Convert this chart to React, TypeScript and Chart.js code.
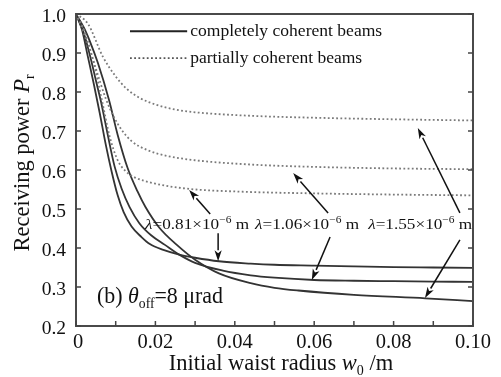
import React, { useEffect, useRef } from "react";
import { Chart, registerables } from "chart.js";

Chart.register(...registerables);

// ---- data ----
const solid081X = [0, 0.0015, 0.003, 0.0045, 0.006, 0.0075, 0.009, 0.0105, 0.012, 0.014, 0.0165, 0.0186, 0.022, 0.026, 0.03, 0.036, 0.044, 0.05, 0.06, 0.07, 0.08, 0.09, 0.1];
const solid081Y = [1.0, 0.96, 0.89, 0.82, 0.745, 0.665, 0.595, 0.535, 0.492, 0.455, 0.428, 0.41, 0.395, 0.383, 0.375, 0.366, 0.36, 0.357, 0.355, 0.353, 0.351, 0.35, 0.349];

const solid106X = [0, 0.002, 0.0038, 0.005, 0.0063, 0.008, 0.0097, 0.0115, 0.0135, 0.016, 0.019, 0.0224, 0.026, 0.03, 0.037, 0.044, 0.05, 0.06, 0.07, 0.08, 0.09, 0.1];
const solid106Y = [1.0, 0.95, 0.882, 0.83, 0.775, 0.69, 0.61, 0.552, 0.505, 0.463, 0.432, 0.408, 0.383, 0.362, 0.342, 0.33, 0.324, 0.318, 0.316, 0.315, 0.314, 0.313];

const solid155X = [0, 0.002, 0.0035, 0.0055, 0.0083, 0.0105, 0.013, 0.0155, 0.0175, 0.021, 0.0254, 0.03, 0.036, 0.044, 0.05, 0.056, 0.07, 0.088, 0.1];
const solid155Y = [1.0, 0.965, 0.93, 0.875, 0.78, 0.69, 0.605, 0.545, 0.505, 0.452, 0.408, 0.37, 0.335, 0.31, 0.298, 0.291, 0.28, 0.271, 0.264];

const dotted081X = [0, 0.002, 0.0043, 0.0065, 0.0085, 0.0105, 0.0125, 0.0144, 0.02, 0.028, 0.04, 0.06, 0.08, 0.1];
const dotted081Y = [1.0, 0.95, 0.88, 0.78, 0.685, 0.625, 0.597, 0.583, 0.565, 0.552, 0.545, 0.54, 0.537, 0.535];

const dotted106X = [0, 0.002, 0.005, 0.0075, 0.0095, 0.0115, 0.014, 0.018, 0.023, 0.03, 0.044, 0.06, 0.08, 0.1];
const dotted106Y = [1.0, 0.96, 0.86, 0.783, 0.737, 0.703, 0.674, 0.651, 0.636, 0.625, 0.614, 0.608, 0.604, 0.602];

const dotted155X = [0, 0.003, 0.0068, 0.01, 0.0128, 0.016, 0.02, 0.025, 0.03, 0.044, 0.06, 0.08, 0.1];
const dotted155Y = [1.0, 0.975, 0.89, 0.84, 0.808, 0.785, 0.768, 0.755, 0.748, 0.739, 0.734, 0.73, 0.727];

const xTickValues = [0, 0.01, 0.02, 0.03, 0.04, 0.05, 0.06, 0.07, 0.08, 0.09, 0.1];
const xTickLabels = ["0", "", "0.02", "", "0.04", "", "0.06", "", "0.08", "", "0.10"];
const yTickValues = [0.2, 0.3, 0.4, 0.5, 0.6, 0.7, 0.8, 0.9, 1.0];
const yTickLabels = ["0.2", "0.3", "0.4", "0.5", "0.6", "0.7", "0.8", "0.9", "1.0"];

const legendLabels = ["completely coherent beams", "partially coherent beams"];
const waveLabels = ["0.81", "1.06", "1.55"];
const waveLabelX = [0.0174, 0.0451, 0.0736];
const waveLabelY = 0.462;
// arrows: [tailX, tailY, headX, headY]
const arrows = [
  [0.0338, 0.487, 0.0285, 0.549],
  [0.0358, 0.438, 0.0358, 0.366],
  [0.0635, 0.49, 0.0547, 0.592],
  [0.064, 0.428, 0.0594, 0.318],
  [0.0967, 0.49, 0.0861, 0.708],
  [0.0967, 0.421, 0.0879, 0.272],
];

const FAMILY = '"Liberation Serif", "Times New Roman", serif';
const TEXT = "#111";

type Run = { t: string; italic?: boolean; size: number; dy?: number };

function runsWidth(ctx: CanvasRenderingContext2D, runs: Run[]) {
  let w = 0;
  for (const r of runs) {
    ctx.font = `${r.italic ? "italic " : ""}${r.size}px ${FAMILY}`;
    w += ctx.measureText(r.t).width;
  }
  return w;
}

function drawRuns(ctx: CanvasRenderingContext2D, runs: Run[], x: number, y: number, align: "left" | "center" | "right", target?: number) {
  const natural = runsWidth(ctx, runs);
  const sx = target ? target / natural : 1;
  const w = natural * sx;
  let start = x;
  if (align === "center") start = x - w / 2;
  if (align === "right") start = x - w;
  ctx.save();
  ctx.translate(start, y);
  ctx.scale(sx, 1);
  ctx.fillStyle = TEXT;
  ctx.textAlign = "left";
  ctx.textBaseline = "alphabetic";
  let cx = 0;
  for (const r of runs) {
    ctx.font = `${r.italic ? "italic " : ""}${r.size}px ${FAMILY}`;
    ctx.fillText(r.t, cx, r.dy || 0);
    cx += ctx.measureText(r.t).width;
  }
  ctx.restore();
}

function pts(xs: number[], ys: number[]) {
  return xs.map((x, i) => ({ x, y: ys[i] }));
}

const DOT = [1.8, 2.4];

const overlay = {
  id: "overlay",
  afterDraw(chart: any) {
    const ctx: CanvasRenderingContext2D = chart.ctx;
    const xs = chart.scales.x;
    const ys = chart.scales.y;
    const a = chart.chartArea;
    const px = (v: number) => xs.getPixelForValue(v);
    const py = (v: number) => ys.getPixelForValue(v);
    ctx.save();

    // frame
    ctx.strokeStyle = "#4a4a4a";
    ctx.lineWidth = 2;
    ctx.strokeRect(a.left, a.top, a.right - a.left, a.bottom - a.top);

    // ticks
    ctx.lineWidth = 1.5;
    ctx.strokeStyle = "#444";
    xTickValues.forEach((v) => {
      const x = px(v);
      ctx.beginPath();
      ctx.moveTo(x, a.bottom);
      ctx.lineTo(x, a.bottom - 5);
      ctx.stroke();
    });
    yTickValues.forEach((v) => {
      const y = py(v);
      ctx.beginPath();
      ctx.moveTo(a.left, y);
      ctx.lineTo(a.left + 5, y);
      ctx.moveTo(a.right, y);
      ctx.lineTo(a.right - 5, y);
      ctx.stroke();
    });

    // tick labels
    xTickValues.forEach((v, i) => {
      if (!xTickLabels[i]) return;
      drawRuns(ctx, [{ t: xTickLabels[i], size: 20.5 }], px(v) + (i === 0 ? 2 : 0), a.bottom + 22, "center");
    });
    yTickValues.forEach((v, i) => {
      drawRuns(ctx, [{ t: yTickLabels[i], size: 19.5 }], a.left - 10, py(v) + 8, "right");
    });

    // axis titles
    drawRuns(
      ctx,
      [
        { t: "Initial waist radius ", size: 22.5 },
        { t: "w", size: 22.5, italic: true },
        { t: "0", size: 14, dy: 5 },
        { t: " /m", size: 22.5 },
      ],
      281,
      a.bottom + 44,
      "center"
    );
    ctx.save();
    ctx.translate(29, 163);
    ctx.rotate(-Math.PI / 2);
    drawRuns(
      ctx,
      [
        { t: "Receiving power ", size: 22.5 },
        { t: "P", size: 22.5, italic: true },
        { t: "r", size: 14, dy: 5 },
      ],
      0,
      0,
      "center"
    );
    ctx.restore();

    // legend
    const lx0 = px(0.0136);
    const lx1 = px(0.028);
    const ly0 = py(0.956);
    const ly1 = py(0.887);
    ctx.strokeStyle = "#222";
    ctx.lineWidth = 2;
    ctx.setLineDash([]);
    ctx.beginPath();
    ctx.moveTo(lx0, ly0);
    ctx.lineTo(lx1, ly0);
    ctx.stroke();
    ctx.strokeStyle = "#555";
    ctx.lineWidth = 1.8;
    ctx.setLineDash(DOT);
    ctx.beginPath();
    ctx.moveTo(lx0, ly1);
    ctx.lineTo(lx1, ly1);
    ctx.stroke();
    ctx.setLineDash([]);
    drawRuns(ctx, [{ t: legendLabels[0], size: 17.5 }], lx1 + 3, ly0 + 5, "left", 192);
    drawRuns(ctx, [{ t: legendLabels[1], size: 17.5 }], lx1 + 3, ly1 + 5, "left", 172);

    // wavelength labels
    waveLabels.forEach((w, i) => {
      drawRuns(
        ctx,
        [
          { t: "λ", size: 15, italic: true },
          { t: "=" + w + "×10", size: 15 },
          { t: "−6", size: 10, dy: -6 },
          { t: " m", size: 15 },
        ],
        px(waveLabelX[i]),
        py(waveLabelY) + 5,
        "left",
        104
      );
    });

    // arrows
    ctx.strokeStyle = "#111";
    ctx.fillStyle = "#111";
    ctx.lineWidth = 1.5;
    arrows.forEach(([tx, ty, hx, hy]) => {
      const x0 = px(tx), y0 = py(ty), x1 = px(hx), y1 = py(hy);
      const ang = Math.atan2(y1 - y0, x1 - x0);
      const L = 11, H = 3.6;
      const bx = x1 - L * Math.cos(ang), by = y1 - L * Math.sin(ang);
      ctx.beginPath();
      ctx.moveTo(x0, y0);
      ctx.lineTo(bx, by);
      ctx.stroke();
      ctx.beginPath();
      ctx.moveTo(x1, y1);
      ctx.lineTo(bx + H * Math.sin(ang), by - H * Math.cos(ang));
      ctx.lineTo(x1 - (L - 3) * Math.cos(ang), y1 - (L - 3) * Math.sin(ang));
      ctx.lineTo(bx - H * Math.sin(ang), by + H * Math.cos(ang));
      ctx.closePath();
      ctx.fill();
    });

    // panel label
    drawRuns(
      ctx,
      [
        { t: "(b) ", size: 22.5 },
        { t: "θ", size: 22.5, italic: true },
        { t: "off", size: 14, dy: 5 },
        { t: "=8 μrad", size: 22.5 },
      ],
      px(0.0053),
      py(0.26),
      "left",
      126
    );

    ctx.restore();
  },
};

export default function App() {
  const ref = useRef<HTMLCanvasElement | null>(null);
  useEffect(() => {
    if (!ref.current) return;
    const solid = (xs: number[], ys: number[]) => ({
      data: pts(xs, ys),
      borderColor: "#333",
      borderWidth: 1.8,
      pointRadius: 0,
      cubicInterpolationMode: "monotone" as const,
      fill: false,
    });
    const dotted = (xs: number[], ys: number[]) => ({
      data: pts(xs, ys),
      borderColor: "#7a7a7a",
      borderWidth: 1.8,
      borderDash: DOT,
      pointRadius: 0,
      cubicInterpolationMode: "monotone" as const,
      fill: false,
    });
    const chart = new Chart(ref.current, {
      type: "line",
      data: {
        datasets: [
          dotted(dotted081X, dotted081Y),
          dotted(dotted106X, dotted106Y),
          dotted(dotted155X, dotted155Y),
          solid(solid081X, solid081Y),
          solid(solid106X, solid106Y),
          solid(solid155X, solid155Y),
        ] as any,
      },
      options: {
        responsive: false,
        animation: false,
        devicePixelRatio: 1,
        layout: { padding: { left: 76, top: 14, right: 28, bottom: 51 } },
        scales: {
          x: { type: "linear", min: 0, max: 0.1, display: false },
          y: { type: "linear", min: 0.2, max: 1.0, display: false },
        },
        plugins: { legend: { display: false }, tooltip: { enabled: false } },
        events: [],
      },
      plugins: [overlay],
    });
    return () => chart.destroy();
  }, []);
  return (
    <div style={{ position: "fixed", left: 0, top: 0, width: 501, height: 377, background: "#fff" }}>
      <canvas ref={ref} width={501} height={377} style={{ width: 501, height: 377 }} />
    </div>
  );
}
